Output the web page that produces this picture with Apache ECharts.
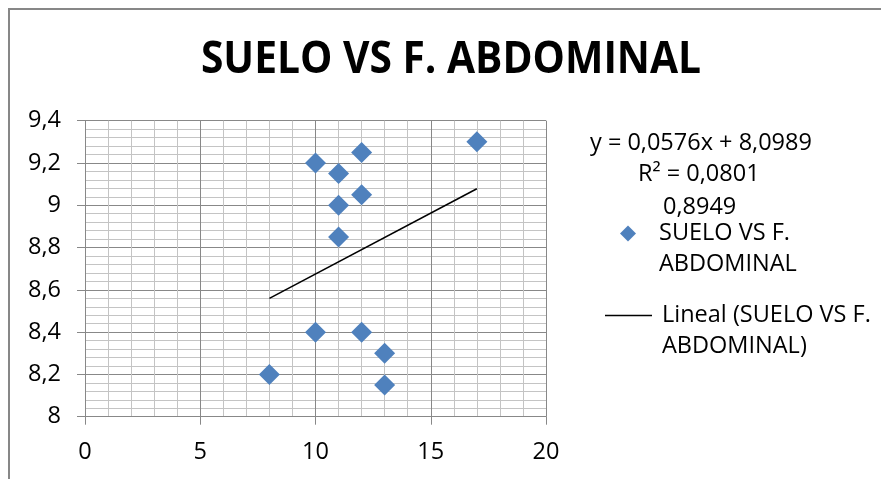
<!DOCTYPE html>
<html>
<head>
<meta charset="utf-8">
<title>SUELO VS F. ABDOMINAL</title>
<script src="https://cdn.jsdelivr.net/npm/echarts@6/dist/echarts.min.js"></script>
<style>
  html, body { margin: 0; padding: 0; background: #fff; }
  #chart { width: 881px; height: 479px; }
</style>
</head>
<body>
<div id="chart"></div>
<script>
// Suelo (x) against F. abdominal (y), one point per subject
const sueloValues = [17, 12, 10, 11, 12, 11, 11, 10, 12, 13, 13, 8];
const abdominalValues = [9.3, 9.25, 9.2, 9.15, 9.05, 9.0, 8.85, 8.4, 8.4, 8.3, 8.15, 8.2];

// Linear trend line coefficients and fit quality
const trendSlope = 0.0576;
const trendIntercept = 8.0989;
const trendR2 = 0.0801;
const sideNote = '0,8949';

// Axis ranges
const xAxisRange = { min: 0, max: 20, step: 5 };
const yAxisRange = { min: 8, max: 9.4, step: 0.2 };

const chartTitle = 'SUELO VS F. ABDOMINAL';
const seriesName = 'SUELO VS F. ABDOMINAL';
const trendName = 'Lineal (SUELO VS F. ABDOMINAL)';

const FONT = '"Open Sans", "Liberation Sans", sans-serif';
const MAJOR = '#888888';
const MINOR = '#c4c4c4';

const decimalComma = v => String(v).replace('.', ',');

const points = sueloValues.map((x, i) => [x, abdominalValues[i]]);
const xLo = Math.min(...sueloValues);
const xHi = Math.max(...sueloValues);
const trendPoints = [xLo, xHi].map(x => [x, trendIntercept + trendSlope * x]);

const equationText =
  'y = ' + decimalComma(trendSlope) + 'x + ' + decimalComma(trendIntercept);
const r2Text = 'R² = ' + decimalComma(trendR2);

const chart = echarts.init(document.getElementById('chart'), null, { renderer: 'canvas' });

chart.setOption({
  backgroundColor: '#ffffff',
  animation: false,
  grid: { left: 85, right: 335, top: 120.7, bottom: 62.3, containLabel: false },
  xAxis: {
    type: 'value',
    min: xAxisRange.min,
    max: xAxisRange.max,
    interval: xAxisRange.step,
    axisLine: { show: true, onZero: false, lineStyle: { color: MAJOR, width: 1 } },
    axisTick: { show: true, inside: false, length: 8, lineStyle: { color: MAJOR } },
    minorTick: { show: false, splitNumber: 5 },
    axisLabel: {
      color: '#000', fontFamily: FONT, fontSize: 23.5, margin: 24,
      formatter: v => decimalComma(v)
    },
    splitLine: { show: true, lineStyle: { color: MAJOR, width: 1 } },
    minorSplitLine: { show: true, lineStyle: { color: MINOR, width: 1 } }
  },
  yAxis: {
    type: 'value',
    min: yAxisRange.min,
    max: yAxisRange.max,
    interval: yAxisRange.step,
    axisLine: { show: true, onZero: false, lineStyle: { color: MAJOR, width: 1 } },
    axisTick: { show: true, inside: false, length: 8, lineStyle: { color: MAJOR } },
    minorTick: { show: false, splitNumber: 5 },
    axisLabel: {
      color: '#000', fontFamily: FONT, fontSize: 23.5, margin: 24,
      formatter: v => decimalComma(Number(v.toFixed(2)))
    },
    splitLine: { show: true, lineStyle: { color: MAJOR, width: 1 } },
    minorSplitLine: { show: true, lineStyle: { color: MINOR, width: 1 } }
  },
  legend: [
    {
      data: [{ name: seriesName, icon: 'diamond' }],
      orient: 'vertical',
      left: 615,
      top: 182,
      itemWidth: 16,
      itemHeight: 16,
      itemGap: 0,
      selectedMode: false,
      textStyle: { fontFamily: FONT, fontSize: 23.5, color: '#000', lineHeight: 31, padding: [0, 0, 0, 18] },
      formatter: () => '\n' + 'SUELO VS F.\nABDOMINAL'
    },
    {
      data: [{ name: trendName, icon: 'path://M0 0H100V3H0Z' }],
      orient: 'vertical',
      left: 600,
      top: 264,
      itemWidth: 47,
      itemHeight: 16,
      itemGap: 0,
      selectedMode: false,
      itemStyle: { color: '#000' },
      lineStyle: { color: '#000', width: 1.5 },
      textStyle: { fontFamily: FONT, fontSize: 23.5, color: '#000', lineHeight: 31, padding: [0, 0, 0, 5] },
      formatter: () => '\n' + 'Lineal (SUELO VS F.\nABDOMINAL)'
    }
  ],
  graphic: [
    {
      type: 'rect',
      silent: true,
      shape: { x: 9, y: 9, width: 1200, height: 1200 },
      style: { fill: 'none', stroke: '#878787', lineWidth: 2 }
    },
    {
      type: 'text',
      silent: true,
      x: 451,
      y: 60,
      scaleX: 0.905,
      style: {
        text: chartTitle,
        font: 'bold 45px ' + FONT,
        fill: '#000',
        align: 'center',
        verticalAlign: 'middle'
      }
    },
    {
      type: 'text',
      left: 590,
      top: 131,
      style: { text: equationText, font: '23.5px ' + FONT, fill: '#000' }
    },
    {
      type: 'text',
      left: 638,
      top: 162,
      style: { text: r2Text, font: '23.5px ' + FONT, fill: '#000' }
    },
    {
      type: 'text',
      left: 663,
      top: 195,
      style: { text: sideNote, font: '23.5px ' + FONT, fill: '#000' }
    }
  ],
  series: [
    {
      name: trendName,
      type: 'line',
      data: trendPoints,
      showSymbol: false,
      symbol: 'none',
      lineStyle: { color: '#000', width: 1.5 },
      itemStyle: { color: '#000' },
      z: 2
    },
    {
      name: seriesName,
      type: 'scatter',
      data: points,
      symbol: 'diamond',
      symbolSize: 21,
      itemStyle: { color: '#4f81bd', opacity: 1 },
      z: 3
    }
  ]
});
</script>
</body>
</html>
